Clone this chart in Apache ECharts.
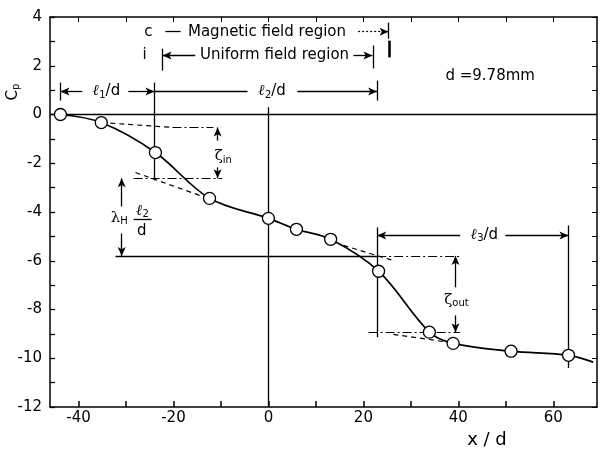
<!DOCTYPE html>
<html>
<head>
<meta charset="utf-8">
<script src="https://cdn.jsdelivr.net/npm/echarts@6/dist/echarts.min.js"></script>
<style>
  html, body { margin: 0; padding: 0; background: #fff; }
  #chart { width: 600px; height: 450px; }
</style>
</head>
<body>
<div id="chart"></div>
<script>
// Wall pressure coefficient measured at the taps along the duct
const xMeasured  = [-43.8, -35.2, -23.8, -12.4, 0, 5.9, 13.1, 23.2, 33.9, 38.9, 51.1, 63.2];
const cpMeasured = [0, -0.33, -1.56, -3.44, -4.26, -4.71, -5.12, -6.43, -8.93, -9.39, -9.71, -9.88];
// Faired curve continues past the last tap
const xCurveTail  = [68.4];
const cpCurveTail = [-10.16];

// Axis ticks and labels
const xTickValues  = [-40, -30, -20, -10, 0, 10, 20, 30, 40, 50, 60];
const xLabelValues = [-40, -20, 0, 20, 40, 60];
const yLabelValues = [4, 2, 0, -2, -4, -6, -8, -10, -12];

// Construction lines, in (x/d, Cp) units: [from, to]
const solidLines = [
  [[-46, 0], [69.2, 0]],
  [[0, 0.3], [0, -12]],
  [[-43.8, 1.31], [-43.8, 0.57]],
  [[-24, 1.31], [-24, -2.7]],
  [[22.9, 1.39], [22.9, 0.57]],
  [[22.9, -4.63], [22.9, -9.14]],
  [[63.2, -4.55], [63.2, -10.4]],
  [[-32.2, -5.8], [22.9, -5.8]],
  [[-28.4, -4.3], [-24.6, -4.3]],
  [[25.3, 3.77], [25.3, 3.11]],
  [[-22.3, 2.7], [-22.3, 1.8]],
  [[22.1, 2.83], [22.1, 1.89]],
  [[-21.7, 3.4], [-18.5, 3.4]]
];
const dashedTangents = [
  [[-35.2, -0.33], [-20.2, -0.53]],
  [[-28, -2.38], [-13.3, -3.4]],
  [[15.8, -5.37], [26.1, -5.98]],
  [[26.3, -9.02], [37.7, -9.34]]
];
const dashDotLevels = [
  [[-20.2, -0.53], [-11.6, -0.53]],
  [[-28.4, -2.62], [-9.7, -2.62]],
  [[22.9, -5.8], [40.4, -5.8]],
  [[21.1, -8.93], [40.4, -8.93]]
];
// Dimension arrows: [from, to, head at from, head at to]
const dimensionArrows = [
  [[-43.8, 0.94], [-39.2, 0.94], true, false],
  [[-29.5, 0.94], [-24, 0.94], false, true],
  [[-24, 0.94], [-4.4, 0.94], false, false],
  [[6.1, 0.94], [22.9, 0.94], false, true],
  [[22.9, -4.96], [40.4, -4.96], true, false],
  [[49.9, -4.96], [63.2, -4.96], false, true],
  [[-10.7, -1.07], [-10.7, -0.53], false, true],
  [[-10.7, -2.17], [-10.7, -2.62], false, true],
  [[-30.9, -3.77], [-30.9, -2.62], false, true],
  [[-30.9, -4.88], [-30.9, -5.8], false, true],
  [[39.4, -7.09], [39.4, -5.8], false, true],
  [[39.4, -8.24], [39.4, -8.93], false, true],
  [[-22.3, 2.42], [-15.4, 2.42], true, false],
  [[17.9, 2.42], [21.9, 2.42], false, true]
];
const dottedArrows = [
  [[18.9, 3.4], [25.3, 3.4], false, true]
];
const heavyBars = [
  [[25.5, 3.03], [25.5, 2.34]]
];

// Text placed on the plot: [x/d, Cp, text]
const notes = [
  [-25.3, 3.4, 'c'],
  [-0.3, 3.4, 'Magnetic field region'],
  [-26.1, 2.42, 'i'],
  [1.3, 2.42, 'Uniform field region'],
  [46.7, 1.56, 'd =9.78mm'],
  [-34.1, 0.94, '{l|ℓ}{s|1}{n|/d}'],
  [0.8, 0.94, '{l|ℓ}{s|2}{n|/d}'],
  [45.5, -4.96, '{l|ℓ}{s|3}{n|/d}'],
  [-9.5, -1.72, '{g|ζ}{s|in}'],
  [39.6, -7.62, '{g|ζ}{s|out}'],
  [-31.4, -4.26, '{g|λ}{s|H}'],
  [-26.5, -3.95, '{l|ℓ}{s|2}'],
  [-26.7, -4.78, '{n|d}']
];

const FONT = 'DejaVu Sans';
const INK = '#000';

const SOLID   = { type: 'solid', width: 1.3, color: INK };
const DASHED  = { type: [5, 4], width: 1.2, color: INK };
const DASHDOT = { type: [9, 3, 2, 3], width: 1.2, color: INK };
const DOTTED  = { type: [2, 2], width: 1.2, color: INK };
const HEAVY   = { type: 'solid', width: 2.6, color: INK };

function seg(a, b, style, headFrom, headTo) {
  return [
    { coord: a, symbol: headFrom ? 'arrow' : 'none', lineStyle: style },
    { coord: b, symbol: headTo ? 'arrow' : 'none' }
  ];
}

const markLines = []
  .concat(solidLines.map(s => seg(s[0], s[1], SOLID)))
  .concat(dashedTangents.map(s => seg(s[0], s[1], DASHED)))
  .concat(dashDotLevels.map(s => seg(s[0], s[1], DASHDOT)))
  .concat(dimensionArrows.map(s => seg(s[0], s[1], SOLID, s[2], s[3])))
  .concat(dottedArrows.map(s => seg(s[0], s[1], DOTTED, s[2], s[3])))
  .concat(heavyBars.map(s => seg(s[0], s[1], HEAVY)));

const curveData = xMeasured.map((x, i) => [x, cpMeasured[i]])
  .concat(xCurveTail.map((x, i) => [x, cpCurveTail[i]]));
const pointData = xMeasured.map((x, i) => [x, cpMeasured[i]]);

const richText = {
  l: { fontFamily: 'DejaVu Serif', fontStyle: 'italic', fontWeight: 'bold', fontSize: 15, color: INK },
  s: { fontFamily: FONT, fontSize: 10, color: INK, padding: [7, 0, 0, 0] },
  n: { fontFamily: FONT, fontSize: 15, color: INK },
  g: { fontFamily: 'DejaVu Serif', fontSize: 15, color: INK }
};

const frameAxisLine = { show: true, onZero: false, lineStyle: { color: INK, width: 1.5 } };

const option = {
  backgroundColor: '#fff',
  animation: false,
  grid: { left: 50, right: 3, top: 17, bottom: 43 },
  xAxis: [
    {
      type: 'value', min: -46, max: 69.2, position: 'bottom',
      splitLine: { show: false },
      axisLine: frameAxisLine,
      axisTick: { inside: true, length: 6, customValues: xTickValues, lineStyle: { color: INK, width: 1.5 } },
      axisLabel: { customValues: xLabelValues, color: INK, fontFamily: FONT, fontSize: 15, margin: 4 }
    },
    {
      type: 'value', min: -46, max: 69.2, position: 'top',
      splitLine: { show: false },
      axisLine: frameAxisLine,
      axisTick: { inside: true, length: 5, customValues: xTickValues, lineStyle: { color: INK } },
      axisLabel: { show: false }
    }
  ],
  yAxis: [
    {
      type: 'value', min: -12, max: 4, interval: 1, position: 'left',
      splitLine: { show: false },
      axisLine: frameAxisLine,
      axisTick: { inside: true, length: 5, lineStyle: { color: INK, width: 1.3 } },
      axisLabel: { customValues: yLabelValues, color: INK, fontFamily: FONT, fontSize: 15, margin: 8 }
    },
    {
      type: 'value', min: -12, max: 4, interval: 1, position: 'right',
      splitLine: { show: false },
      axisLine: frameAxisLine,
      axisTick: { inside: true, length: 5, lineStyle: { color: INK } },
      axisLabel: { show: false }
    }
  ],
  graphic: [
    {
      type: 'text', x: 487, y: 440,
      style: { text: 'x / d', fill: INK, font: '18px "DejaVu Sans"', align: 'center', verticalAlign: 'middle' }
    },
    {
      type: 'text', x: 13, y: 92, rotation: Math.PI / 2,
      style: {
        text: '{c|C}{p|p}', align: 'center', verticalAlign: 'middle',
        rich: {
          c: { fontFamily: FONT, fontSize: 15, fill: INK },
          p: { fontFamily: FONT, fontSize: 10, fill: INK, padding: [6, 0, 0, 0] }
        }
      }
    }
  ],
  series: [
    {
      name: 'faired curve',
      type: 'line',
      data: curveData,
      smooth: 0.35,
      showSymbol: false,
      lineStyle: { color: INK, width: 1.7 },
      z: 2,
      markLine: {
        silent: true,
        symbol: 'none',
        symbolSize: [6, 9],
        label: { show: false },
        lineStyle: SOLID,
        data: markLines
      }
    },
    {
      name: 'pressure taps',
      type: 'scatter',
      data: pointData,
      symbol: 'circle',
      symbolSize: 12,
      itemStyle: { color: '#fff', borderColor: INK, borderWidth: 1.3, opacity: 1 },
      z: 5
    },
    {
      name: 'notes',
      type: 'scatter',
      clip: false,
      symbolSize: 0,
      data: notes.map(n => ({ value: [n[0], n[1]], name: n[2] })),
      itemStyle: { color: '#fff', opacity: 1 },
      label: {
        show: true,
        position: 'inside',
        formatter: p => p.name,
        color: INK,
        opacity: 1,
        fontFamily: FONT,
        fontSize: 15,
        rich: richText
      },
      z: 6
    }
  ]
};

const chart = echarts.init(document.getElementById('chart'));
chart.setOption(option);
</script>
</body>
</html>
